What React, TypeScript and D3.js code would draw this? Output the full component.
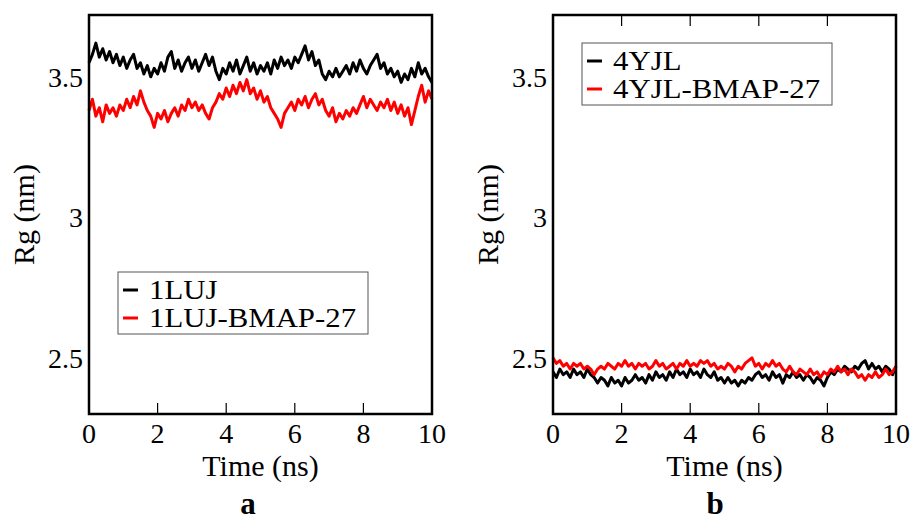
import { useRef, useEffect } from "react";
import * as d3 from "d3";

// time axis, 0..10 ns every 0.1 ns
const time = d3.range(101).map((i) => i / 10);

// panel a
const luj = [
  3.55, 3.58, 3.62, 3.57, 3.6, 3.56, 3.59, 3.55, 3.58, 3.54,
  3.57, 3.53, 3.56, 3.58, 3.53, 3.55, 3.51, 3.54, 3.5, 3.53,
  3.51, 3.55, 3.52, 3.57, 3.59, 3.53, 3.56, 3.52, 3.55, 3.57,
  3.53, 3.56, 3.52, 3.55, 3.58, 3.54, 3.57, 3.52, 3.49, 3.53,
  3.51, 3.55, 3.52, 3.56, 3.51, 3.54, 3.57, 3.52, 3.55, 3.51,
  3.54, 3.52, 3.55, 3.51, 3.56, 3.53, 3.57, 3.54, 3.56, 3.53,
  3.57, 3.55, 3.58, 3.61, 3.56, 3.59, 3.54, 3.56, 3.51, 3.49,
  3.52, 3.5, 3.53, 3.5, 3.52, 3.54, 3.51, 3.55, 3.52, 3.56,
  3.53, 3.51, 3.54, 3.56, 3.58, 3.53, 3.55, 3.51, 3.53, 3.5,
  3.52, 3.48, 3.51, 3.49, 3.53, 3.5, 3.55, 3.51, 3.53, 3.5,
  3.48,
];
const lujBmap = [
  3.38, 3.42, 3.36, 3.39, 3.34, 3.4, 3.37, 3.39, 3.36, 3.4,
  3.38, 3.42, 3.39, 3.43, 3.4, 3.45, 3.41, 3.38, 3.36, 3.32,
  3.37, 3.35, 3.38, 3.34, 3.37, 3.39, 3.36, 3.4, 3.38, 3.42,
  3.39, 3.41, 3.38, 3.4, 3.37, 3.35, 3.39, 3.41, 3.44, 3.42,
  3.46, 3.43, 3.47, 3.44, 3.48, 3.45, 3.49, 3.44, 3.46, 3.42,
  3.45, 3.41, 3.43, 3.39, 3.37, 3.35, 3.32, 3.37, 3.39, 3.41,
  3.38, 3.42, 3.4, 3.43, 3.39, 3.42, 3.44, 3.4, 3.42, 3.38,
  3.36, 3.39, 3.34, 3.37, 3.35, 3.38, 3.36, 3.39, 3.37, 3.4,
  3.43, 3.39, 3.42, 3.4, 3.38, 3.41, 3.39, 3.42, 3.38, 3.41,
  3.37, 3.4, 3.36, 3.39, 3.33, 3.38, 3.43, 3.47, 3.41, 3.45,
  3.42,
];

// panel b
const yjl = [
  2.45, 2.43, 2.46, 2.44, 2.45, 2.43, 2.46, 2.44, 2.45, 2.43,
  2.46, 2.44, 2.43, 2.41, 2.43, 2.42, 2.4, 2.43, 2.41, 2.42,
  2.4, 2.43, 2.41, 2.42, 2.44, 2.42, 2.43, 2.41, 2.44, 2.42,
  2.45, 2.43, 2.44, 2.42, 2.45, 2.43, 2.46, 2.44, 2.45, 2.43,
  2.46, 2.44, 2.45, 2.43, 2.46, 2.44, 2.43, 2.45, 2.42, 2.43,
  2.41, 2.43, 2.41, 2.42, 2.4, 2.42, 2.41, 2.43, 2.42, 2.44,
  2.45, 2.43, 2.44, 2.42, 2.45, 2.43, 2.44, 2.41, 2.44, 2.43,
  2.45, 2.43, 2.44, 2.42, 2.44, 2.43, 2.41, 2.43, 2.42, 2.4,
  2.43, 2.45, 2.44, 2.46, 2.45, 2.47, 2.46, 2.45, 2.47, 2.46,
  2.48, 2.49, 2.46, 2.48, 2.46, 2.47, 2.45, 2.47, 2.46, 2.44,
  2.47,
];
const yjlBmap = [
  2.5, 2.48, 2.49, 2.47, 2.48, 2.46, 2.48, 2.47, 2.48, 2.46,
  2.47, 2.46, 2.44, 2.46, 2.47, 2.46, 2.48, 2.47, 2.46, 2.48,
  2.47, 2.49, 2.47, 2.48, 2.46, 2.48, 2.47, 2.48, 2.46, 2.47,
  2.49, 2.47, 2.48, 2.46, 2.47, 2.48, 2.46, 2.48, 2.47, 2.49,
  2.47, 2.48, 2.47, 2.49, 2.48, 2.49, 2.47, 2.48, 2.46, 2.47,
  2.46, 2.48, 2.47, 2.45, 2.47, 2.46, 2.48, 2.49, 2.5, 2.47,
  2.48, 2.46, 2.48, 2.47, 2.49, 2.47, 2.48, 2.46, 2.45, 2.47,
  2.45, 2.44, 2.46, 2.45, 2.44, 2.46, 2.44, 2.45, 2.43, 2.45,
  2.44, 2.46, 2.45, 2.47, 2.45, 2.46, 2.44, 2.46, 2.45, 2.43,
  2.44, 2.42, 2.44, 2.43, 2.45, 2.43, 2.44, 2.46, 2.44, 2.45,
  2.47,
];

const xTicks = [0, 2, 4, 6, 8, 10];
const yTicks = [2.5, 3, 3.5];

export default function App() {
  const svgRef = useRef(null);

  useEffect(() => {
    const svg = d3.select(svgRef.current);
    svg.selectAll("*").remove();
    const font = "Liberation Serif, DejaVu Serif, serif";

    const panels = [
      {
        left: 89,
        tag: "a",
        tagX: 248,
        series: [
          { name: "1LUJ", values: luj, color: "#000" },
          { name: "1LUJ-BMAP-27", values: lujBmap, color: "#f00" },
        ],
        legend: { x: 118, y: 272, w: 250, h: 62 },
        topTicks: false,
      },
      {
        left: 553,
        tag: "b",
        tagX: 715,
        series: [
          { name: "4YJL", values: yjl, color: "#000" },
          { name: "4YJL-BMAP-27", values: yjlBmap, color: "#f00" },
        ],
        legend: { x: 582, y: 43, w: 250, h: 62 },
        topTicks: true,
      },
    ];

    const top = 15;
    const bottom = 414;
    const w = 343;

    panels.forEach((p) => {
      const g = svg.append("g").attr("font-family", font);
      const x = d3.scaleLinear().domain([0, 10]).range([p.left, p.left + w]);
      const y = d3.scaleLinear().domain([2.3, 3.72]).range([bottom, top]);

      // traces
      const line = d3
        .line()
        .x((d, i) => x(time[i]))
        .y((d) => y(d));
      p.series.forEach((s) => {
        g.append("path")
          .datum(s.values)
          .attr("d", line)
          .attr("fill", "none")
          .attr("stroke", s.color)
          .attr("stroke-width", 3)
          .attr("stroke-linejoin", "round");
      });

      // frame
      g.append("rect")
        .attr("x", p.left)
        .attr("y", top)
        .attr("width", w)
        .attr("height", bottom - top)
        .attr("fill", "none")
        .attr("stroke", "#000")
        .attr("stroke-width", 2.5);

      // x ticks (inside)
      xTicks.slice(1, -1).forEach((t) => {
        g.append("line")
          .attr("x1", x(t))
          .attr("x2", x(t))
          .attr("y1", bottom)
          .attr("y2", bottom - 11)
          .attr("stroke", "#000")
          .attr("stroke-width", 1.2);
        if (p.topTicks) {
          g.append("line")
            .attr("x1", x(t))
            .attr("x2", x(t))
            .attr("y1", top)
            .attr("y2", top + 11)
            .attr("stroke", "#000")
            .attr("stroke-width", 1.2);
        }
      });
      xTicks.forEach((t) => {
        g.append("text")
          .attr("x", x(t))
          .attr("y", 443)
          .attr("text-anchor", "middle")
          .attr("font-size", 28)
          .text(t);
      });
      yTicks.forEach((t) => {
        g.append("text")
          .attr("x", p.left - 6)
          .attr("y", y(t) + 10)
          .attr("text-anchor", "end")
          .attr("font-size", 28)
          .text(String(t));
      });

      // axis titles
      g.append("text")
        .attr("x", p.left + w / 2)
        .attr("y", 476)
        .attr("text-anchor", "middle")
        .attr("font-size", 30)
        .text("Time (ns)");
      g.append("text")
        .attr("transform", `translate(${p.left - 55}, ${(top + bottom) / 2}) rotate(-90)`)
        .attr("text-anchor", "middle")
        .attr("font-size", 30)
        .text("Rg (nm)");

      // panel tag
      g.append("text")
        .attr("x", p.tagX)
        .attr("y", 514)
        .attr("text-anchor", "middle")
        .attr("font-size", 31)
        .attr("font-weight", "bold")
        .text(p.tag);

      // legend
      const L = p.legend;
      g.append("rect")
        .attr("x", L.x)
        .attr("y", L.y)
        .attr("width", L.w)
        .attr("height", L.h)
        .attr("fill", "#fff")
        .attr("stroke", "#555")
        .attr("stroke-width", 1);
      p.series.forEach((s, i) => {
        const by = L.y + 27 + i * 28;
        g.append("line")
          .attr("x1", L.x + 5)
          .attr("x2", L.x + 20)
          .attr("y1", by - 9)
          .attr("y2", by - 9)
          .attr("stroke", s.color)
          .attr("stroke-width", 3);
        const t = g
          .append("text")
          .attr("x", L.x + 31)
          .attr("y", by)
          .attr("font-size", 28)
          .text(s.name);
        // reference glyphs are slightly wider than Times
        const len = t.node().getComputedTextLength();
        t.attr("textLength", len * 1.1).attr("lengthAdjust", "spacingAndGlyphs");
      });
    });
  }, []);

  return (
    <svg
      ref={svgRef}
      width={915}
      height={522}
      style={{ position: "absolute", left: 0, top: 0, background: "#fff" }}
    ></svg>
  );
}
